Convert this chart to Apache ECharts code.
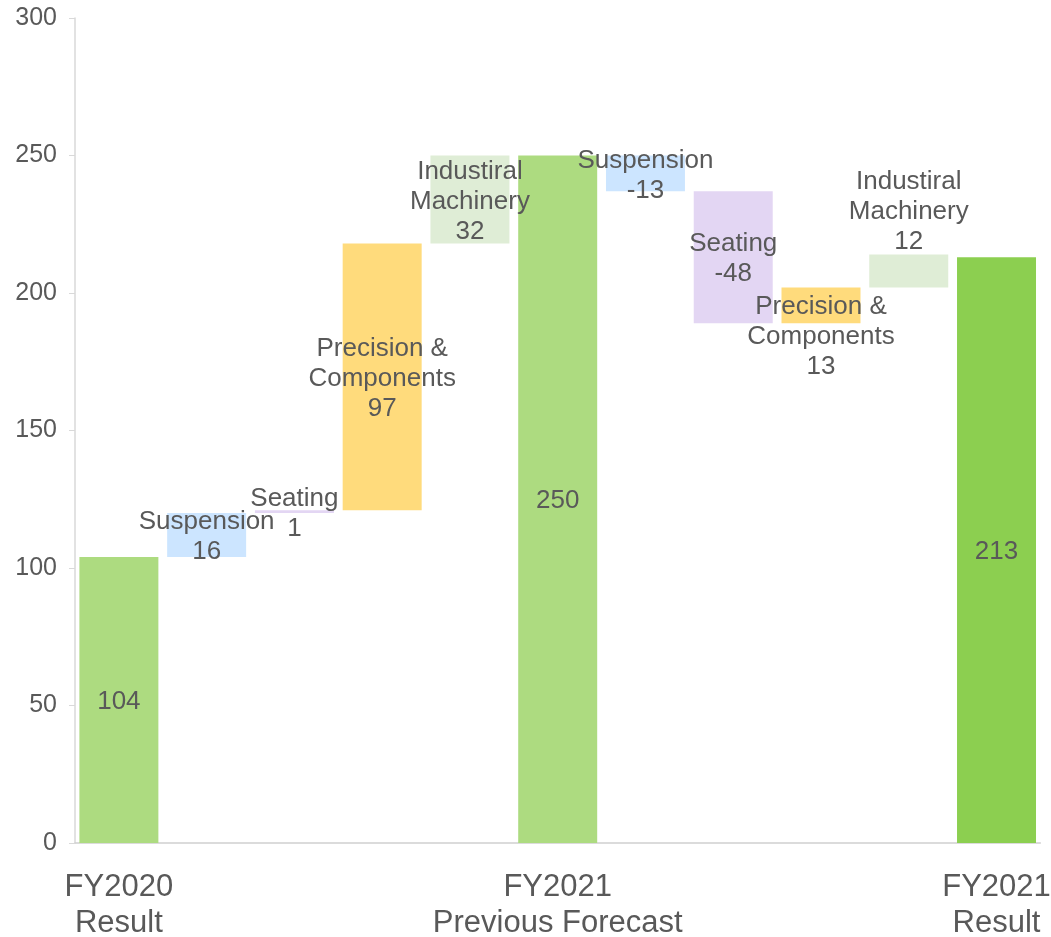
<!DOCTYPE html>
<html>
<head>
<meta charset="utf-8">
<script src="https://cdn.jsdelivr.net/npm/echarts@6/dist/echarts.min.js"></script>
<style>html,body{margin:0;padding:0;background:#fff;}#c{width:1051px;height:937px;}</style>
</head>
<body>
<div id="c"></div>
<script>
const categories = ["FY2020\nResult", "Suspension", "Seating", "Precision &\nComponents", "Industiral\nMachinery", "FY2021\nPrevious Forecast", "Suspension", "Seating", "Precision &\nComponents", "Industiral\nMachinery", "FY2021\nResult"];
const isTotal = [true, false, false, false, false, true, false, false, false, false, true];
const values = [104, 16, 1, 97, 32, 250, -13, -48, 13, 12, 213];
const yTicks = [0, 50, 100, 150, 200, 250, 300];
const colors = ["#addb80", "#cce5ff", "#e3d6f3", "#ffdb7c", "#dfedd6", "#addb80", "#cce5ff", "#e3d6f3", "#ffdb7c", "#dfedd6", "#8ccf50"];

const base = [], heights = [];
let cum = 0;
values.forEach((v, i) => {
  if (isTotal[i]) { base.push(0); heights.push(v); cum = v; }
  else {
    const next = cum + v;
    base.push(Math.min(cum, next));
    heights.push(Math.abs(v));
    cum = next;
  }
});

const labelOffsets = {8: [0, 31], 9: [0, -59]};
const barData = heights.map((h, i) => {
  const item = {value: h, itemStyle: {color: colors[i]}};
  if (labelOffsets[i]) item.label = {offset: labelOffsets[i]};
  return item;
});

const chart = echarts.init(document.getElementById('c'), null, {renderer: 'canvas'});
chart.setOption({
  animation: false,
  grid: {left: 75, right: 10.6, top: 18, bottom: 94, containLabel: false, outerBoundsMode: 'none'},
  xAxis: {
    type: 'category',
    data: categories,
    axisLine: {lineStyle: {color: '#d0d0d0', width: 1.5}},
    axisTick: {show: false},
    axisLabel: {
      interval: 0,
      formatter: (v, i) => isTotal[i] ? v : '',
      color: '#595959', fontSize: 31, lineHeight: 36, margin: 26,
      fontFamily: 'Liberation Sans'
    }
  },
  yAxis: {
    type: 'value', min: yTicks[0], max: yTicks[yTicks.length - 1], interval: 50,
    axisLine: {show: true, lineStyle: {color: '#d9d9d9', width: 1.5}},
    axisTick: {show: true, length: 6, lineStyle: {color: '#d9d9d9'}},
    splitLine: {show: false},
    axisLabel: {color: '#595959', fontSize: 25, margin: 18, fontFamily: 'Liberation Sans'}
  },
  series: [
    {type: 'bar', stack: 'w', data: base, itemStyle: {color: 'transparent'}, barCategoryGap: '10%', silent: true},
    {
      type: 'bar', stack: 'w', data: barData, barCategoryGap: '10%',
      label: {
        show: true, position: 'inside', offset: [0, 2],
        color: '#595959', fontSize: 26, lineHeight: 30, fontFamily: 'Liberation Sans',
        formatter: p => {
          const i = p.dataIndex;
          return isTotal[i] ? String(values[i]) : categories[i] + '\n' + values[i];
        }
      }
    }
  ]
});
</script>
</body>
</html>
